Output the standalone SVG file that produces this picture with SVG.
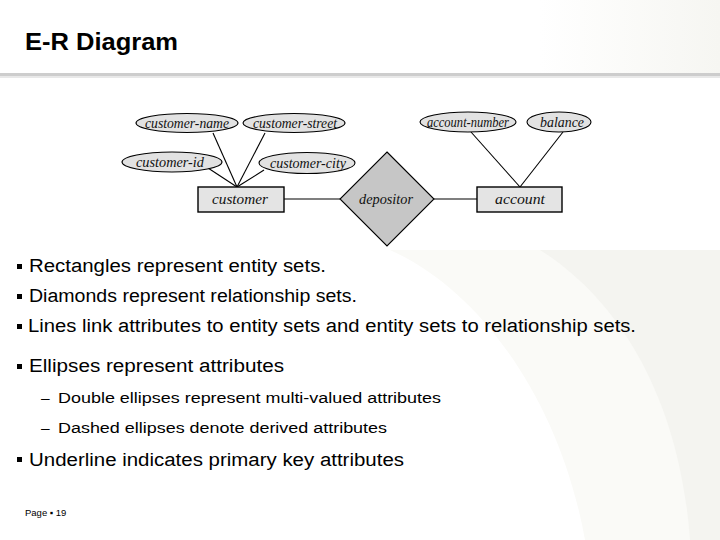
<svg xmlns="http://www.w3.org/2000/svg" width="720" height="540" viewBox="0 0 720 540">
<defs>
<style>
.attr{fill:#e2e2e2;stroke:#000;stroke-width:1.1}
.ent{fill:#e4e4e4;stroke:#000;stroke-width:1.4}
.rel{fill:#c6c6c6;stroke:#000;stroke-width:1.1}
.lbl{font-family:"Liberation Serif",serif;font-style:italic;font-size:14px;fill:#111;text-anchor:middle}
.conn line{stroke:#000;stroke-width:1.1}
.bt{font-family:"Liberation Sans",Arial,sans-serif;font-size:18px;fill:#000}
.sub{font-family:"Liberation Sans",Arial,sans-serif;font-size:15.5px;fill:#000}
.title{font-family:"Liberation Sans",Arial,sans-serif;font-size:24px;font-weight:bold;fill:#000}
.bul{fill:#000}
</style>
<linearGradient id="hdr" x1="0" y1="0" x2="1" y2="0">
<stop offset="0" stop-color="#ffffff"/>
<stop offset="0.75" stop-color="#ffffff"/>
<stop offset="1" stop-color="#f6f6f2"/>
</linearGradient>
</defs>
<rect width="720" height="540" fill="#fff"/>
<rect width="720" height="73" fill="url(#hdr)"/>
<path d="M390,250 C480,290 560,400 585,540 L720,540 L720,250 Z" fill="#fafaf7"/>
<path d="M540,250 C620,300 680,400 690,540 L720,540 L720,250 Z" fill="#f4f4f0"/>
<rect x="0" y="73" width="720" height="3" fill="#cdcdcd"/>
<rect x="0" y="76" width="720" height="2" fill="#e8e8e8"/>
<text class="title" x="25" y="50" textLength="153" lengthAdjust="spacingAndGlyphs">E-R Diagram</text>

<g class="conn" id="connectors">
<line x1="213" y1="133" x2="237" y2="187"/>
<line x1="265" y1="133" x2="237" y2="187"/>
<line x1="208" y1="168" x2="237" y2="187"/>
<line x1="264" y1="170" x2="237" y2="187"/>
<line x1="284" y1="199" x2="340" y2="199"/>
<line x1="434" y1="199" x2="477" y2="199"/>
<line x1="471" y1="132" x2="520" y2="187"/>
<line x1="563" y1="132" x2="520" y2="187"/>
</g>

<g id="customer-name"><ellipse class="attr" cx="187" cy="123" rx="51" ry="9.5"/><text class="lbl" x="187" y="127.5" textLength="84" lengthAdjust="spacingAndGlyphs">customer-name</text></g>
<g id="customer-street"><ellipse class="attr" cx="294" cy="123" rx="51" ry="9.5"/><text class="lbl" x="295" y="127.5" textLength="84" lengthAdjust="spacingAndGlyphs">customer-street</text></g>
<g id="customer-id"><ellipse class="attr" cx="172" cy="162" rx="50" ry="10"/><text class="lbl" x="170" y="166.5" textLength="68" lengthAdjust="spacingAndGlyphs">customer-id</text></g>
<g id="customer-city"><ellipse class="attr" cx="307" cy="163" rx="48" ry="10.5"/><text class="lbl" x="308" y="167.5" textLength="76" lengthAdjust="spacingAndGlyphs">customer-city</text></g>
<g id="customer"><rect class="ent" x="198" y="187" width="86" height="25"/><text class="lbl" x="240" y="203.5" textLength="56" lengthAdjust="spacingAndGlyphs">customer</text></g>
<g id="depositor"><polygon class="rel" points="387,152 434,199 387,246 340,199"/><text class="lbl" x="386" y="203.5" textLength="54" lengthAdjust="spacingAndGlyphs">depositor</text></g>
<g id="account"><rect class="ent" x="477" y="187" width="85" height="25"/><text class="lbl" x="520" y="203.5" textLength="50" lengthAdjust="spacingAndGlyphs">account</text></g>
<g id="account-number"><ellipse class="attr" cx="468" cy="122" rx="48" ry="10"/><text class="lbl" x="468" y="126.5" textLength="82" lengthAdjust="spacingAndGlyphs">account-number</text></g>
<g id="balance"><ellipse class="attr" cx="559" cy="122" rx="32" ry="10"/><text class="lbl" x="562" y="126.5" textLength="44" lengthAdjust="spacingAndGlyphs">balance</text></g>

<rect class="bul" x="17" y="264" width="5" height="5"/>
<text class="bt" x="29" y="272" textLength="297" lengthAdjust="spacingAndGlyphs">Rectangles represent entity sets.</text>
<rect class="bul" x="17" y="294" width="5" height="5"/>
<text class="bt" x="29" y="302" textLength="328" lengthAdjust="spacingAndGlyphs">Diamonds represent relationship sets.</text>
<rect class="bul" x="17" y="324" width="5" height="5"/>
<text class="bt" x="28" y="332" textLength="608" lengthAdjust="spacingAndGlyphs">Lines link attributes to entity sets and entity sets to relationship sets.</text>
<rect class="bul" x="17" y="364" width="5" height="5"/>
<text class="bt" x="29" y="372" textLength="255" lengthAdjust="spacingAndGlyphs">Ellipses represent attributes</text>
<text class="sub" x="41" y="403">–</text>
<text class="sub" x="58" y="403" textLength="383" lengthAdjust="spacingAndGlyphs">Double ellipses represent multi-valued attributes</text>
<text class="sub" x="41" y="433">–</text>
<text class="sub" x="58" y="433" textLength="329" lengthAdjust="spacingAndGlyphs">Dashed ellipses denote derived attributes</text>
<rect class="bul" x="17" y="457" width="5" height="5"/>
<text class="bt" x="29" y="466" textLength="375" lengthAdjust="spacingAndGlyphs">Underline indicates primary key attributes</text>
<text x="25" y="516" font-family="Liberation Sans, Arial, sans-serif" font-size="9.5" fill="#000">Page ▪ 19</text>
</svg>
